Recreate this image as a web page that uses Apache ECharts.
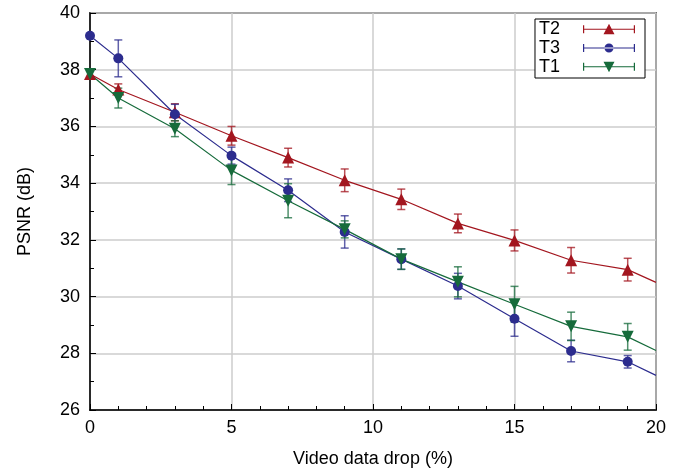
<!DOCTYPE html>
<html>
<head>
<meta charset="utf-8">
<script src="https://cdn.jsdelivr.net/npm/echarts@6/dist/echarts.min.js"></script>
<style>
    html, body { margin: 0; padding: 0; background: #fff; }
    #chart { width: 682px; height: 473px; }
</style>
</head>
<body>
<div id="chart"></div>
<script>
// 数据
var dropX = [0, 1, 3, 5, 7, 9, 11, 13, 15, 17, 19, 20];
var t2Psnr = [37.85, 37.3, 36.5, 35.67, 34.9, 34.1, 33.43, 32.58, 31.98, 31.28, 30.95, 30.5];
var t3Psnr = [39.2, 38.4, 36.43, 34.97, 33.75, 32.28, 31.32, 30.37, 29.22, 28.08, 27.7, 27.22];
var t1Psnr = [37.85, 37.0, 35.92, 34.45, 33.38, 32.37, 31.32, 30.52, 29.73, 28.95, 28.58, 28.1];
// 误差(半宽), null = 无误差棒
var t2Err = [null, 0.2, 0.3, 0.33, 0.33, 0.4, 0.36, 0.33, 0.37, 0.45, 0.4, null];
var t3Err = [null, 0.65, 0.35, 0.3, 0.4, 0.57, 0.36, 0.45, 0.62, 0.38, 0.22, null];
var t1Err = [null, 0.35, 0.28, 0.5, 0.6, 0.3, 0.36, 0.53, 0.63, 0.5, 0.47, null];
var yTicks = [26, 28, 30, 32, 34, 36, 38, 40];

var red = '#a3161f', blue = '#2c2c8e', green = '#166b3b';

function lineData(ys) {
    var out = [];
    for (var i = 0; i < dropX.length; i++) {
        if (i === dropX.length - 1) {
            out.push({value: [dropX[i], ys[i]], symbol: 'none'});
        } else {
            out.push([dropX[i], ys[i]]);
        }
    }
    return out;
}

function errData(ys, es) {
    var out = [];
    for (var i = 0; i < dropX.length; i++) {
        if (es[i] != null) out.push([dropX[i], ys[i] - es[i], ys[i] + es[i]]);
    }
    return out;
}

function errRender(color) {
    return function (params, api) {
        var lo = api.coord([api.value(0), api.value(1)]);
        var hi = api.coord([api.value(0), api.value(2)]);
        var w = 4;
        var style = {stroke: color, lineWidth: 1.5, opacity: 0.75};
        return {
            type: 'group',
            children: [
                {type: 'line', shape: {x1: lo[0], y1: lo[1], x2: hi[0], y2: hi[1]}, style: style},
                {type: 'line', shape: {x1: lo[0] - w, y1: lo[1], x2: lo[0] + w, y2: lo[1]}, style: style},
                {type: 'line', shape: {x1: hi[0] - w, y1: hi[1], x2: hi[0] + w, y2: hi[1]}, style: style}
            ]
        };
    };
}

// 图例图标: 误差棒 + 标记
var barPath = 'M0,5.5 h52 v1 h-52 z M0,2 h1.2 v8 h-1.2 z M50.8,2 h1.2 v8 h-1.2 z ';
var upIcon = 'path://' + barPath + 'M20.5,11 L26,0.5 L31.5,11 z';
var dotIcon = 'path://' + barPath + 'M21.5,6 a4.5,4.5 0 1,0 9,0 a4.5,4.5 0 1,0 -9,0 z M0,0 h0.01 v12 h-0.01 z';
var downIcon = 'path://' + barPath + 'M20.5,1 L31.5,1 L26,11.5 z';

var chart = echarts.init(document.getElementById('chart'));
var axisFont = {fontFamily: 'Liberation Sans, Arial, sans-serif', fontSize: 18, color: '#000'};

var option = {
    backgroundColor: '#fff',
    animation: false,
    grid: {
        left: 90, right: 26, top: 13, bottom: 62,
        show: true, borderColor: '#000', borderWidth: 1.5, backgroundColor: 'transparent'
    },
    legend: {
        orient: 'vertical',
        right: 37, top: 19,
        align: 'right',
        itemWidth: 52, itemHeight: 12,
        itemGap: 1,
        padding: [1, 10, 2, 4],
        borderColor: '#000', borderWidth: 1, backgroundColor: '#fff',
        textStyle: {fontFamily: 'Liberation Sans, Arial, sans-serif', fontSize: 18, color: '#000', padding: [0, 18, 0, 0]},
        data: [
            {name: 'T2', icon: upIcon, itemStyle: {color: red}},
            {name: 'T3', icon: dotIcon, itemStyle: {color: blue}},
            {name: 'T1', icon: downIcon, itemStyle: {color: green}}
        ]
    },
    xAxis: {
        type: 'value', min: 0, max: 20, interval: 5,
        name: 'Video data drop (%)', nameLocation: 'middle', nameGap: 40,
        nameTextStyle: axisFont,
        axisLine: {lineStyle: {color: '#000', width: 1.5}},
        axisTick: {inside: true, length: 6, lineStyle: {color: '#000', width: 1}},
        minorTick: {show: true, splitNumber: 5, length: 4, lineStyle: {color: '#000', width: 1}},
        axisLabel: Object.assign({margin: 9}, axisFont),
        splitLine: {lineStyle: {color: '#cccccc', width: 1.5}}
    },
    yAxis: {
        type: 'value', min: 26, max: 40, interval: 2,
        name: 'PSNR (dB)', nameLocation: 'middle', nameGap: 56,
        nameTextStyle: axisFont,
        axisLine: {show: true, lineStyle: {color: '#000', width: 1.5}},
        axisTick: {show: true, inside: true, length: 6, lineStyle: {color: '#000', width: 1}},
        minorTick: {show: true, splitNumber: 2, length: 4, lineStyle: {color: '#000', width: 1}},
        axisLabel: Object.assign({margin: 10, formatter: function (v) {
            return yTicks.indexOf(v) >= 0 ? String(v) : '';
        }}, axisFont),
        splitLine: {lineStyle: {color: '#cccccc', width: 1.5}}
    },
    series: [
        {
            name: 'T2err', type: 'custom', renderItem: errRender(red),
            data: errData(t2Psnr, t2Err), encode: {x: 0, y: [1, 2]}, z: 3
        },
        {
            name: 'T3err', type: 'custom', renderItem: errRender(blue),
            data: errData(t3Psnr, t3Err), encode: {x: 0, y: [1, 2]}, z: 3
        },
        {
            name: 'T1err', type: 'custom', renderItem: errRender(green),
            data: errData(t1Psnr, t1Err), encode: {x: 0, y: [1, 2]}, z: 3
        },
        {
            name: 'T2', type: 'line', data: lineData(t2Psnr),
            symbol: 'triangle', symbolSize: 12, color: red,
            lineStyle: {color: red, width: 1.2}, itemStyle: {color: red}, z: 4
        },
        {
            name: 'T3', type: 'line', data: lineData(t3Psnr),
            symbol: 'circle', symbolSize: 10, color: blue,
            lineStyle: {color: blue, width: 1.2}, itemStyle: {color: blue}, z: 4
        },
        {
            name: 'T1', type: 'line', data: lineData(t1Psnr),
            symbol: 'triangle', symbolRotate: 180, symbolSize: 12, color: green,
            lineStyle: {color: green, width: 1.2}, itemStyle: {color: green}, z: 4
        }
    ]
};

chart.setOption(option);
</script>
</body>
</html>
